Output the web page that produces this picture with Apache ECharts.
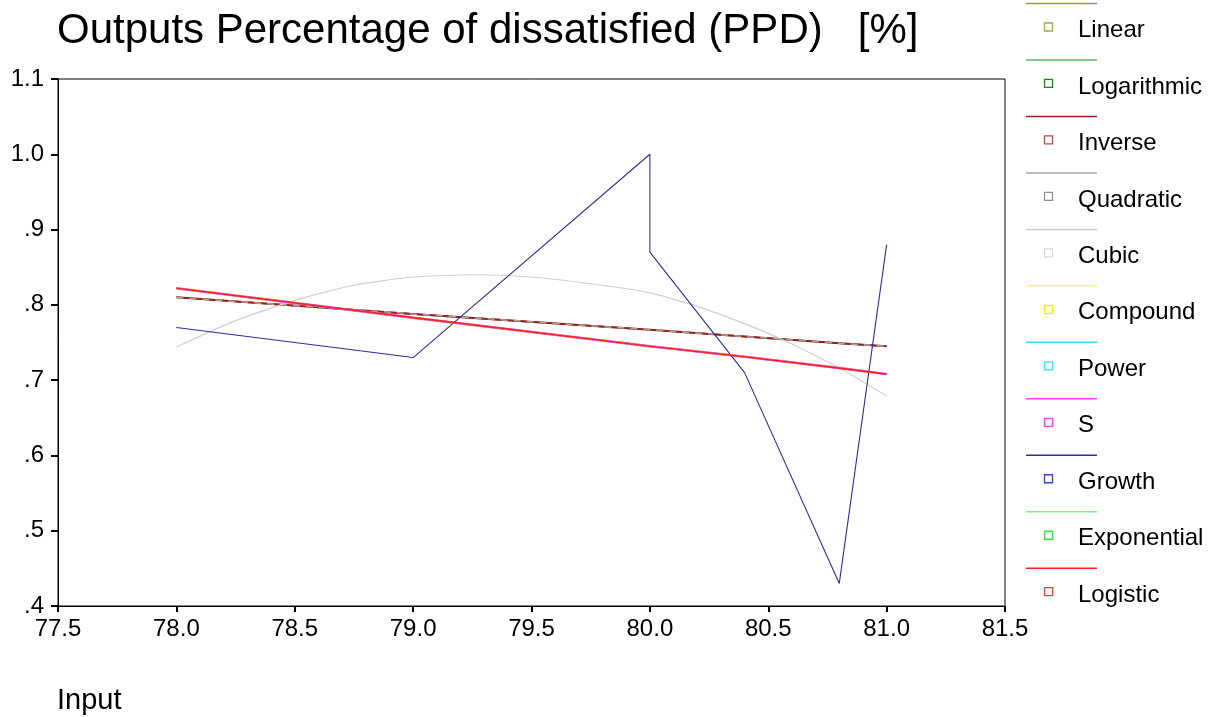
<!DOCTYPE html>
<html>
<head>
<meta charset="utf-8">
<script src="https://cdn.jsdelivr.net/npm/echarts@6/dist/echarts.min.js"></script>
<style>
html,body{margin:0;padding:0;background:#fff;}
#chart{width:1210px;height:717px;}
</style>
</head>
<body>
<div id="chart"></div>
<script>
// ---- data ----
const titleText = 'Outputs Percentage of dissatisfied (PPD)   [%]';
const xAxisName = 'Input';
const xTicks = [77.5, 78.0, 78.5, 79.0, 79.5, 80.0, 80.5, 81.0, 81.5];
const yTicks = [0.4, 0.5, 0.6, 0.7, 0.8, 0.9, 1.0, 1.1];

const seriesNames = ['Linear', 'Logarithmic', 'Inverse', 'Quadratic', 'Cubic', 'Compound', 'Power', 'S', 'Growth', 'Exponential', 'Logistic'];
const seriesColors = ['#9c9c3c', '#5cb85c', '#9a1c1c', '#a8a8a8', '#cfcfcf', '#ffff60', '#30e8f0', '#ff40ff', '#2e2ea0', '#80f080', '#ff2020'];
const markerColors = ['#a8a850', '#208020', '#b05050', '#909090', '#d8d8d8', '#f0f000', '#40e0f0', '#ff40ff', '#4040e0', '#40e040', '#ff4040'];

const fitX = [78, 79, 80, 80.4, 80.8, 81];
const linearY = [0.810, 0.788, 0.767, 0.758, 0.749, 0.745];
const logarithmicY = [0.810, 0.788, 0.767, 0.758, 0.749, 0.745];
const inverseY = [0.810, 0.788, 0.767, 0.758, 0.749, 0.745];
const quadraticY = [0.810, 0.788, 0.767, 0.758, 0.749, 0.745];
const cubicX = [78, 78.25, 78.5, 78.75, 79, 79.25, 79.5, 79.75, 80, 80.2, 80.4, 80.6, 80.8, 81];
const cubicY = [0.744, 0.779, 0.806, 0.826, 0.837, 0.840, 0.837, 0.828, 0.816, 0.798, 0.775, 0.748, 0.716, 0.679];
const compoundY = [0.822, 0.783, 0.745, 0.731, 0.716, 0.708];
const powerY = [0.822, 0.783, 0.745, 0.731, 0.716, 0.708];
const sY = [0.822, 0.783, 0.745, 0.731, 0.716, 0.708];
const growthX = [78, 79, 80, 80, 80.4, 80.8, 81];
const growthY = [0.77, 0.73, 1.00, 0.87, 0.71, 0.43, 0.88];
const exponentialY = [0.822, 0.783, 0.745, 0.731, 0.716, 0.708];
const logisticY = [0.822, 0.783, 0.745, 0.731, 0.716, 0.708];

// ---- build ----
const pairs = (xs, ys) => xs.map((x, i) => [x, ys[i]]);
const seriesData = [
  pairs(fitX, linearY),
  pairs(fitX, logarithmicY),
  pairs(fitX, inverseY),
  pairs(fitX, quadraticY),
  pairs(cubicX, cubicY),
  pairs(fitX, compoundY),
  pairs(fitX, powerY),
  pairs(fitX, sY),
  pairs(growthX, growthY),
  pairs(fitX, exponentialY),
  pairs(fitX, logisticY)
];
const widths = [1.5, 1.5, 2, 1.5, 1.2, 1.5, 1.5, 2.5, 1.1, 1.5, 1.6];
const dashes = [null, null, null, [7, 6], null, null, null, null, null, null, null];

const FONT = '"Liberation Sans", Arial, sans-serif';
const series = seriesNames.map((n, i) => ({
  name: n,
  type: 'line',
  data: seriesData[i],
  showSymbol: false,
  symbol: 'none',
  smooth: i === 4 ? 0.2 : false,
  lineStyle: { color: seriesColors[i], width: widths[i], type: dashes[i] || 'solid' },
  itemStyle: { color: seriesColors[i] },
  animation: false,
  z: 2 + i
}));

const graphics = [];
const LEG_STEP = 56.47;
seriesNames.forEach((n, i) => {
  const y0 = 3.5 + LEG_STEP * i;
  graphics.push({
    type: 'line', silent: true,
    shape: { x1: 1026, y1: y0, x2: 1097, y2: y0 },
    style: { stroke: seriesColors[i], lineWidth: 1.5 }
  });
  graphics.push({
    type: 'rect', silent: true,
    shape: { x: 1044.5, y: y0 + 19.5, width: 8, height: 8 },
    style: { stroke: markerColors[i], fill: '#fff', lineWidth: 1.3 }
  });
  graphics.push({
    type: 'text', silent: true,
    x: 1078, y: y0 + 27,
    style: { text: n, font: '24px ' + FONT, fill: '#000', textVerticalAlign: 'middle', verticalAlign: 'middle' }
  });
});
graphics.push({
  type: 'text', silent: true, x: 57, y: 701,
  style: { text: xAxisName, font: '29px ' + FONT, fill: '#000', verticalAlign: 'middle' }
});

const chart = echarts.init(document.getElementById('chart'), null, { renderer: 'canvas' });
chart.setOption({
  backgroundColor: '#fff',
  animation: false,
  title: {
    text: titleText, left: 52, top: 5,
    textStyle: { fontFamily: FONT, fontSize: 42, fontWeight: 'normal', color: '#000' }
  },
  grid: { left: 58, top: 79, right: 205, bottom: 111, show: true, borderColor: '#000', borderWidth: 1, containLabel: false },
  xAxis: {
    type: 'value', min: xTicks[0], max: xTicks[xTicks.length - 1], interval: 0.5,
    axisLine: { lineStyle: { color: '#000', width: 1 } },
    axisTick: { show: true, inside: false, length: 6, lineStyle: { color: '#000', width: 2 } },
    axisLabel: { color: '#000', fontFamily: FONT, fontSize: 24, margin: 11, formatter: v => v.toFixed(1) },
    splitLine: { show: false }
  },
  yAxis: {
    type: 'value', min: yTicks[0], max: yTicks[yTicks.length - 1], interval: 0.1,
    axisLine: { show: true, lineStyle: { color: '#000', width: 1 } },
    axisTick: { show: true, inside: false, length: 7, lineStyle: { color: '#000', width: 2 } },
    axisLabel: { color: '#000', fontFamily: FONT, fontSize: 24, margin: 14,
      formatter: v => { const s = v.toFixed(1); return v < 1 ? s.replace(/^0/, '') : s; } },
    splitLine: { show: false }
  },
  series: series,
  graphic: graphics
});
</script>
</body>
</html>
